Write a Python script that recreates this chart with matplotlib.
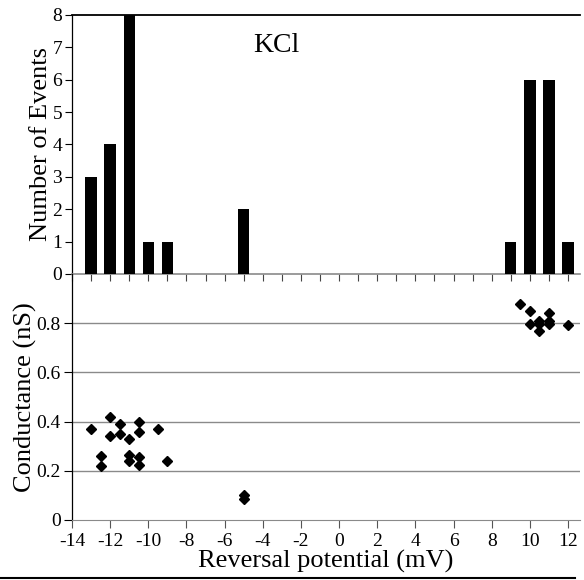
import matplotlib
matplotlib.use("Agg")
import matplotlib.pyplot as plt
import numpy as np
from matplotlib.lines import Line2D

plt.rcParams['font.family'] = ['Liberation Serif', 'DejaVu Serif']

# Histogram data
bin_centers = [-13, -12, -11, -10, -9, -5, 9, 10, 11, 12]
event_counts = [3, 4, 8, 1, 1, 2, 1, 6, 6, 1]

# Scatter data
rev_potential = [-13, -12, -11.5, -10.5, -9.5, -12, -11.5, -11, -10.5,
                 -12.5, -12.5, -11, -11, -10.5, -10.5, -9,
                 -5, -5,
                 9.5, 10, 11, 10, 10.5, 10.5, 10.5, 11, 11, 12]
conductance = [0.37, 0.42, 0.39, 0.40, 0.37, 0.34, 0.35, 0.33, 0.356,
               0.26, 0.22, 0.265, 0.24, 0.255, 0.223, 0.24,
               0.10, 0.085,
               0.88, 0.85, 0.84, 0.795, 0.81, 0.795, 0.768, 0.808, 0.795, 0.792]

x_ticks = list(range(-14, 13, 2))
hist_yticks = list(range(0, 9))
cond_yticks = [0, 0.2, 0.4, 0.6, 0.8]
cond_ylabels = ['0', '0.2', '0.4', '0.6', '0.8']

fig = plt.figure(figsize=(5.84, 5.80), dpi=100)
L, R = 72/584, 580/584
ax1 = fig.add_axes([L, 1-274/580, R-L, (274-15)/580])
ax2 = fig.add_axes([L, 1-520/580, R-L, (520-274)/580])
ax2.set_facecolor('none')

xlim = (-14, 12.63)
grey = '#8a8a8a'
lab_fs = 19
tick_fs = 14

# Top histogram
ax1.bar(bin_centers, event_counts, width=0.6, color='black', zorder=3)
ax1.set_xlim(*xlim)
ax1.set_ylim(0, 8)
ax1.set_xticks(range(-14, 13))
ax1.set_xticklabels([])
ax1.set_yticks(hist_yticks)
ax1.tick_params(axis='y', direction='out', length=5, width=0.8, labelsize=tick_fs, pad=2)
ax1.tick_params(axis='x', direction='out', length=5, width=0.8, color='#444444')
ax1.spines['right'].set_visible(False)
ax1.spines['top'].set_linewidth(1.3)
ax1.spines['bottom'].set_color(grey)
ax1.spines['bottom'].set_linewidth(1.2)
ax1.spines['left'].set_linewidth(0.9)
ax1.set_ylabel('Number of Events', fontsize=lab_fs, labelpad=0)
ax1.text(-3.3, 7.05, 'KCl', fontsize=20, ha='center', va='center')

# Bottom scatter
for g in [0.2, 0.4, 0.6, 0.8]:
    ax2.axhline(g, color=grey, lw=1.0, zorder=1)
ax2.plot(rev_potential, conductance, 'D', color='black', markersize=4.6, zorder=3)
ax2.set_xlim(*xlim)
ax2.set_ylim(0, 1.0)
ax2.set_xticks(x_ticks)
ax2.set_xticklabels([str(t) for t in x_ticks])
ax2.set_yticks(cond_yticks)
ax2.set_yticklabels(cond_ylabels)
ax2.tick_params(axis='both', direction='out', length=6, width=0.8, labelsize=tick_fs, pad=2)
ax2.tick_params(axis='x', color='#555555', pad=3)
ax2.spines['right'].set_visible(False)
ax2.spines['top'].set_visible(False)
ax2.spines['bottom'].set_color(grey)
ax2.spines['left'].set_linewidth(0.9)
ax2.set_ylabel('Conductance (nS)', fontsize=lab_fs, labelpad=0)
ax2.set_xlabel('Reversal potential (mV)', fontsize=lab_fs, labelpad=0)

fig.add_artist(Line2D([0, 0.985], [0.003, 0.003], transform=fig.transFigure,
                      color='black', lw=1.5))

fig.savefig('out.png', dpi=100)
